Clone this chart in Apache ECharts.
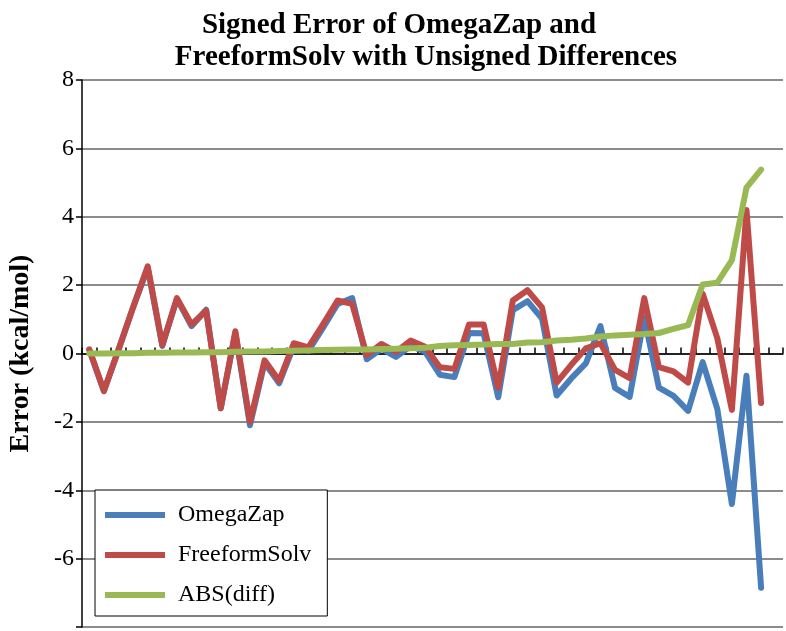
<!DOCTYPE html>
<html>
<head>
<meta charset="utf-8">
<script src="https://cdn.jsdelivr.net/npm/echarts@6/dist/echarts.min.js"></script>
<style>html,body{margin:0;padding:0;background:#fff}#c{width:786px;height:631px}</style>
</head>
<body>
<div id="c"></div>
<script>
// 47 molecules (sorted by unsigned difference) plus one empty slot at the end
const categories = Array.from({length: 48}, (_, i) => String(i + 1));
const omegaZap = [0.1, -1.1, 0.1, 1.35, 2.5, 0.22, 1.6, 0.8, 1.28, -1.6, 0.6, -2.1, -0.27, -0.87, 0.22, 0.08, 0.75, 1.45, 1.62, -0.17, 0.14, -0.1, 0.22, 0.05, -0.62, -0.69, 0.6, 0.59, -1.28, 1.27, 1.53, 1.02, -1.23, -0.73, -0.29, 0.8, -1.01, -1.27, 1.05, -1.0, -1.24, -1.68, -0.25, -1.62, -4.4, -0.65, -6.85, null];
const freeformSolv = [0.12, -1.1, 0.12, 1.35, 2.55, 0.25, 1.62, 0.85, 1.25, -1.6, 0.65, -2.0, -0.2, -0.8, 0.3, 0.18, 0.85, 1.55, 1.45, -0.05, 0.28, 0.05, 0.38, 0.2, -0.4, -0.45, 0.85, 0.85, -1.0, 1.55, 1.85, 1.35, -0.85, -0.33, 0.15, 0.3, -0.48, -0.72, 1.62, -0.4, -0.52, -0.85, 1.75, 0.45, -1.65, 4.2, -1.45, null];
const absDiff = [0.0, 0.0, 0.01, 0.01, 0.02, 0.02, 0.03, 0.03, 0.04, 0.04, 0.05, 0.06, 0.06, 0.07, 0.08, 0.09, 0.1, 0.11, 0.12, 0.12, 0.13, 0.14, 0.15, 0.17, 0.22, 0.24, 0.25, 0.26, 0.28, 0.28, 0.32, 0.33, 0.38, 0.4, 0.44, 0.5, 0.53, 0.55, 0.57, 0.6, 0.72, 0.83, 2.02, 2.07, 2.73, 4.85, 5.38, null];
const seriesNames = ['OmegaZap', 'FreeformSolv', 'ABS(diff)'];
const titleLines = ['Signed Error of OmegaZap and', 'FreeformSolv with Unsigned Differences'];
const yName = 'Error (kcal/mol)';
const hiddenTickLabels = [-8]; // cut off at the bottom edge in the reference

const serif = '"Liberation Serif", "Times New Roman", serif';
const chart = echarts.init(document.getElementById('c'), null, {renderer: 'canvas'});
const mk = (name, data, color) => ({
  name, type: 'line', data, symbol: 'none', smooth: false,
  lineStyle: {color, width: 6, join: 'round', cap: 'round'},
  itemStyle: {color}, connectNulls: false, animation: false
});
chart.setOption({
  animation: false,
  title: [
    {text: titleLines[0], left: 394, top: 6, textAlign: 'center',
     textStyle: {fontFamily: serif, fontWeight: 'bold', fontSize: 29, color: '#000'}},
    {text: titleLines[1], left: 421, top: 38, textAlign: 'center',
     textStyle: {fontFamily: serif, fontWeight: 'bold', fontSize: 29, color: '#000'}}
  ],
  grid: {left: 82, right: 3, top: 80, bottom: 4, containLabel: false, outerBoundsMode: 'none'},
  legend: {
    orient: 'vertical', left: 95, top: 490,
    data: seriesNames,
    icon: 'rect', itemWidth: 60, itemHeight: 6, itemGap: 16,
    padding: [13, 16, 9, 10],
    backgroundColor: '#fff', borderColor: '#000', borderWidth: 1,
    textStyle: {fontFamily: serif, fontSize: 24, color: '#000', padding: [0, 0, 0, 8]}
  },
  xAxis: {
    type: 'category', data: categories, boundaryGap: true,
    axisLine: {onZero: true, lineStyle: {color: '#000', width: 1.5}},
    axisTick: {show: true, inside: true, length: 6, interval: 0, lineStyle: {color: '#000', width: 1.5}},
    axisLabel: {show: false}, splitLine: {show: false}
  },
  yAxis: {
    type: 'value', min: -8, max: 8, interval: 2,
    name: yName, nameLocation: 'middle', nameGap: 47, nameRotate: 90,
    nameTextStyle: {fontFamily: serif, fontWeight: 'bold', fontSize: 28, color: '#000'},
    axisLine: {show: true, lineStyle: {color: '#000', width: 1.5}},
    axisTick: {show: true, length: 6, lineStyle: {color: '#000', width: 1.5}},
    axisLabel: {fontFamily: serif, fontSize: 24, color: '#000', margin: 8,
      formatter: v => hiddenTickLabels.includes(v) ? '' : String(v)},
    splitLine: {show: true, lineStyle: {color: '#8c8c8c', width: 2}}
  },
  series: [
    mk(seriesNames[0], omegaZap, '#4a7ebb'),
    mk(seriesNames[1], freeformSolv, '#be4b48'),
    mk(seriesNames[2], absDiff, '#98b954')
  ]
});
</script>
</body>
</html>
